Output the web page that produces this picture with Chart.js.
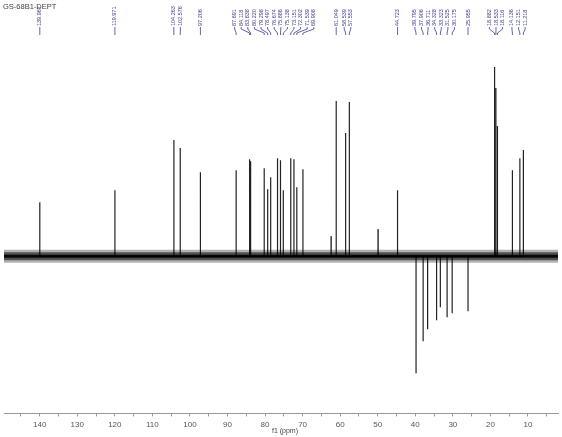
<!DOCTYPE html>
<html>
<head>
<meta charset="utf-8">
<script src="https://cdn.jsdelivr.net/npm/chart.js@4.4.0/dist/chart.umd.min.js"></script>
<style>
  html, body { margin: 0; padding: 0; background: #fff; }
  #wrap { position: relative; width: 562px; height: 437px; }
</style>
</head>
<body>
<div id="wrap"><canvas id="deptChart"></canvas></div>
<script>
// Spectrum data
const spectrumTitle = 'GS-68B1-DEPT';
const axisTitle = 'f1 (ppm)';
const peakLabels = ['139.967', '119.971', '104.263', '102.576', '97.206', '87.691', '84.118', '83.838',
    '80.220', '79.298', '78.497', '76.674', '75.886', '75.138', '73.151', '72.302', '71.539', '69.908',
    '61.049', '58.539', '57.553', '44.723', '39.795', '37.906', '36.711', '34.328', '33.323', '31.525',
    '30.175', '25.955', '18.882', '18.533', '18.116', '14.136', '12.151', '11.218'];
const peakPpm = [139.967, 119.971, 104.263, 102.576, 97.206, 87.691, 84.118, 83.838,
    80.220, 79.298, 78.497, 76.674, 75.886, 75.138, 73.151, 72.302, 71.539, 69.908,
    61.049, 58.539, 57.553, 44.723, 39.795, 37.906, 36.711, 34.328, 33.323, 31.525,
    30.175, 25.955, 18.882, 18.533, 18.116, 14.136, 12.151, 11.218];
// positive = CH / CH3, negative = CH2
const peakHeights = [54, 66, 116, 108, 84, 86, 97, 95,
    88, 67, 79, 98, 96, 66, 98, 97, 69, 87,
    155, 123, 154, 66, -117, -85, -73, -64, -51, -61,
    -57, -55, 189, 168, 130, 86, 98, 106];
// small unlabelled signals
const minorPpm = [62.4, 49.9];
const minorHeights = [20, 27];
const xTickLabels = [140, 130, 120, 110, 100, 90, 80, 70, 60, 50, 40, 30, 20, 10];

function stickPoints(ppm, heights) {
    const pts = [];
    ppm.forEach((p, i) => {
        pts.push({ x: p, y: 0 }, { x: p, y: heights[i] }, { x: p, y: 0 });
    });
    return pts;
}

function baselineBand(width, color) {
    return {
        data: [{ x: 149.5, y: 0 }, { x: 2, y: 0 }],
        showLine: true,
        borderColor: color,
        borderWidth: width,
        pointRadius: 0
    };
}

// Peak labels on top, spectrum title, axis title
const peakLabelPlugin = {
    id: 'peakLabels',
    afterDraw(chart) {
        const ctx = chart.ctx;
        const xs = chart.scales.x;
        const items = peakPpm.map((p, i) => ({ px: xs.getPixelForValue(p), text: peakLabels[i] }));
        items.sort((a, b) => a.px - b.px);

        // spread crowded labels
        const gap = 6.6;
        let groups = items.map(it => ({ items: [it], center: it.px }));
        let merged = true;
        while (merged) {
            merged = false;
            for (let i = 0; i < groups.length - 1; i++) {
                const a = groups[i], b = groups[i + 1];
                const aEnd = a.center + (a.items.length - 1) * gap / 2;
                const bStart = b.center - (b.items.length - 1) * gap / 2;
                if (bStart - aEnd < gap) {
                    const all = a.items.concat(b.items);
                    const c = all.reduce((s, it) => s + it.px, 0) / all.length;
                    groups.splice(i, 2, { items: all, center: c });
                    merged = true;
                    break;
                }
            }
        }
        groups.forEach(g => g.items.forEach((it, k) => {
            it.lx = g.center + (k - (g.items.length - 1) / 2) * gap;
        }));

        ctx.save();
        ctx.font = '5.5px "Liberation Sans"';
        ctx.fillStyle = '#3b3b95';
        ctx.strokeStyle = '#3b3b95';
        ctx.lineWidth = 0.8;
        items.forEach(it => {
            ctx.save();
            ctx.translate(it.lx, 26);
            ctx.rotate(-Math.PI / 2);
            ctx.textAlign = 'left';
            ctx.textBaseline = 'middle';
            ctx.fillText(it.text, 0, 0);
            ctx.restore();
            ctx.beginPath();
            ctx.moveTo(it.lx, 27);
            ctx.lineTo(it.lx, 29);
            ctx.lineTo(it.px, 33);
            ctx.lineTo(it.px, 35);
            ctx.stroke();
        });

        ctx.font = '7.5px "Liberation Sans"';
        ctx.fillStyle = '#444';
        ctx.textAlign = 'left';
        ctx.textBaseline = 'top';
        ctx.fillText(spectrumTitle, 3, 3);

        ctx.font = '7px "Liberation Sans"';
        ctx.textAlign = 'center';
        ctx.textBaseline = 'middle';
        ctx.fillText(axisTitle, 285, 431);
        ctx.restore();
    }
};

const ctx = document.getElementById('deptChart').getContext('2d');
window.deptChart = new Chart(ctx, {
    type: 'scatter',
    data: {
        datasets: [
            // noise band around the baseline
            baselineBand(13, 'rgba(0, 0, 0, 0.3)'),
            baselineBand(8, 'rgba(0, 0, 0, 0.55)'),
            baselineBand(3, 'rgba(0, 0, 0, 0.9)'),
            {
                data: stickPoints(minorPpm, minorHeights),
                showLine: true,
                borderColor: '#333',
                borderWidth: 1,
                pointRadius: 0
            },
            {
                data: stickPoints(peakPpm, peakHeights),
                showLine: true,
                borderColor: '#222',
                borderWidth: 1.2,
                pointRadius: 0
            }
        ]
    },
    options: {
        responsive: true,
        maintainAspectRatio: false,
        animation: false,
        layout: { padding: { top: 40, left: 4, right: 4, bottom: 3 } },
        plugins: {
            legend: { display: false },
            tooltip: { enabled: false }
        },
        scales: {
            x: {
                type: 'linear',
                reverse: true,
                min: 2,
                max: 149.5,
                afterBuildTicks(scale) {
                    const t = [];
                    for (let v = 5; v <= 145; v += 5) t.push({ value: v });
                    scale.ticks = t;
                },
                ticks: {
                    autoSkip: false,
                    maxRotation: 0,
                    padding: 4,
                    color: '#555',
                    font: { size: 8, family: 'Liberation Sans' },
                    callback: v => xTickLabels.includes(v) ? String(v) : ''
                },
                grid: {
                    drawOnChartArea: false,
                    drawTicks: true,
                    tickLength: 3,
                    color: '#999'
                },
                border: { color: '#999', width: 1 },
                title: { display: false }
            },
            y: {
                display: false,
                min: -157,
                max: 216
            }
        }
    },
    plugins: [peakLabelPlugin]
});
</script>
</body>
</html>
